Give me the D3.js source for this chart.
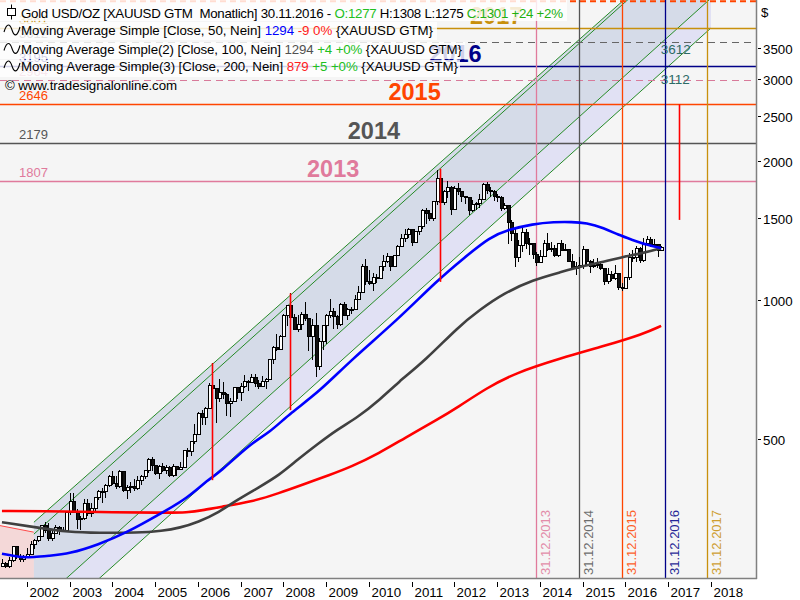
<!DOCTYPE html>
<html><head><meta charset="utf-8">
<script src="https://cdn.jsdelivr.net/npm/d3@7"></script>
<style>
body{margin:0;background:#fff;}
svg{display:block;font-family:"Liberation Sans",Arial,sans-serif;}
text{white-space:pre;}
</style>
</head><body><svg id="c" width="800" height="600"></svg>
<script>
// ---------- DATA ----------
const candles = [
["2001-06",265,275,265,270],["2001-07",270,272,264,265],["2001-08",265,279,264,273],["2001-09",273,293,271,293],["2001-10",293,293,275,279],["2001-11",279,283,271,275],["2001-12",275,281,271,279],
["2002-01",279,291,277,282],["2002-02",282,302,281,297],["2002-03",297,304,289,302],["2002-04",302,309,300,308],["2002-05",308,327,307,326],["2002-06",326,332,313,318],["2002-07",318,330,301,305],["2002-08",305,318,302,313],["2002-09",313,326,312,323],["2002-10",323,325,311,317],["2002-11",317,323,315,318],["2002-12",318,349,316,347],
["2003-01",347,383,343,367],["2003-02",367,382,346,348],["2003-03",348,353,320,335],["2003-04",335,341,319,337],["2003-05",337,372,334,363],["2003-06",363,372,342,346],["2003-07",346,365,340,354],["2003-08",354,376,349,375],["2003-09",375,389,369,385],["2003-10",385,392,365,385],["2003-11",385,400,373,397],["2003-12",397,418,395,416],
["2004-01",416,428,399,402],["2004-02",402,417,390,396],["2004-03",396,430,393,427],["2004-04",427,428,385,388],["2004-05",388,399,371,393],["2004-06",393,404,383,395],["2004-07",395,410,386,391],["2004-08",391,416,388,408],["2004-09",408,418,399,416],["2004-10",416,430,410,429],["2004-11",429,456,423,453],["2004-12",453,457,428,438],
["2005-01",438,439,418,422],["2005-02",422,439,410,436],["2005-03",436,445,424,428],["2005-04",428,440,420,435],["2005-05",435,437,414,417],["2005-06",417,443,414,436],["2005-07",436,438,417,430],["2005-08",430,447,429,434],["2005-09",434,474,434,473],["2005-10",473,478,457,470],["2005-11",470,497,460,495],["2005-12",495,540,489,513],
["2006-01",513,574,513,569],["2006-02",569,577,538,556],["2006-03",556,587,536,583],["2006-04",583,660,580,654],["2006-05",654,730,639,643],["2006-06",643,645,542,614],["2006-07",614,676,602,632],["2006-08",632,664,610,624],["2006-09",624,631,561,598],["2006-10",598,613,559,604],["2006-11",604,650,602,646],["2006-12",646,648,611,632],
["2007-01",632,660,604,651],["2007-02",651,690,646,665],["2007-03",665,673,636,662],["2007-04",662,693,661,680],["2007-05",680,691,650,659],["2007-06",659,673,641,650],["2007-07",650,684,648,665],["2007-08",665,677,643,673],["2007-09",673,746,670,743],["2007-10",743,795,727,789],["2007-11",789,845,775,783],["2007-12",783,838,780,834],
["2008-01",834,934,831,924],["2008-02",924,975,880,972],["2008-03",972,1033,916,916],["2008-04",916,932,862,865],["2008-05",865,930,852,885],["2008-06",885,940,860,929],["2008-07",929,989,902,913],["2008-08",913,916,775,834],["2008-09",834,911,740,880],["2008-10",880,936,681,717],["2008-11",717,827,705,815],["2008-12",815,880,778,880],
["2009-01",880,932,805,927],["2009-02",927,1006,915,942],["2009-03",942,962,866,921],["2009-04",921,926,866,883],["2009-05",883,983,880,980],["2009-06",980,990,921,927],["2009-07",927,961,904,954],["2009-08",954,967,932,955],["2009-09",955,1023,950,1001],["2009-10",1001,1070,1000,1040],["2009-11",1040,1195,1034,1182],["2009-12",1182,1227,1076,1096],
["2010-01",1096,1162,1075,1083],["2010-02",1083,1143,1044,1118],["2010-03",1118,1136,1088,1113],["2010-04",1113,1181,1110,1179],["2010-05",1179,1249,1155,1213],["2010-06",1213,1265,1203,1242],["2010-07",1242,1242,1155,1181],["2010-08",1181,1251,1176,1248],["2010-09",1248,1313,1243,1307],["2010-10",1307,1387,1307,1357],["2010-11",1357,1424,1332,1386],["2010-12",1386,1431,1360,1421],
["2011-01",1421,1424,1309,1333],["2011-02",1333,1412,1330,1409],["2011-03",1409,1447,1381,1439],["2011-04",1439,1575,1421,1563],["2011-05",1563,1577,1462,1536],["2011-06",1536,1561,1478,1500],["2011-07",1500,1633,1481,1628],["2011-08",1628,1913,1602,1826],["2011-09",1826,1921,1534,1620],["2011-10",1620,1725,1600,1717],["2011-11",1717,1804,1663,1746],["2011-12",1746,1764,1523,1566],
["2012-01",1566,1763,1563,1738],["2012-02",1738,1791,1688,1711],["2012-03",1711,1720,1627,1669],["2012-04",1669,1677,1613,1664],["2012-05",1664,1669,1527,1562],["2012-06",1562,1641,1547,1604],["2012-07",1604,1629,1562,1615],["2012-08",1615,1692,1582,1648],["2012-09",1648,1790,1644,1773],["2012-10",1773,1796,1691,1720],["2012-11",1720,1754,1672,1713],["2012-12",1713,1726,1635,1675],
["2013-01",1675,1697,1626,1663],["2013-02",1663,1681,1555,1578],["2013-03",1578,1617,1566,1597],["2013-04",1597,1600,1321,1472],["2013-05",1472,1488,1338,1393],["2013-06",1393,1420,1180,1234],["2013-07",1234,1348,1208,1313],["2013-08",1313,1434,1271,1396],["2013-09",1396,1424,1291,1327],["2013-10",1327,1362,1251,1323],["2013-11",1323,1326,1227,1251],["2013-12",1251,1267,1182,1202],
["2014-01",1202,1280,1201,1244],["2014-02",1244,1345,1239,1326],["2014-03",1326,1392,1277,1284],["2014-04",1284,1332,1268,1291],["2014-05",1291,1315,1241,1250],["2014-06",1250,1325,1240,1322],["2014-07",1322,1345,1285,1282],["2014-08",1282,1323,1273,1287],["2014-09",1287,1290,1207,1210],["2014-10",1210,1255,1161,1172],["2014-11",1172,1206,1131,1183],["2014-12",1183,1239,1170,1185],
["2015-01",1185,1307,1167,1283],["2015-02",1283,1286,1191,1212],["2015-03",1212,1220,1142,1183],["2015-04",1183,1224,1175,1184],["2015-05",1184,1232,1170,1190],["2015-06",1190,1205,1162,1172],["2015-07",1172,1172,1077,1095],["2015-08",1095,1170,1080,1135],["2015-09",1135,1157,1098,1115],["2015-10",1115,1191,1106,1142],["2015-11",1142,1142,1052,1065],["2015-12",1065,1088,1046,1061],
["2016-01",1061,1123,1062,1118],["2016-02",1118,1263,1107,1238],["2016-03",1238,1283,1206,1233],["2016-04",1233,1305,1208,1293],["2016-05",1293,1303,1200,1215],["2016-06",1215,1362,1208,1322],["2016-07",1322,1375,1310,1351],["2016-08",1351,1367,1301,1309],["2016-09",1309,1352,1303,1316],["2016-10",1316,1317,1241,1277],["2016-11",1277,1308,1275,1301]
];
const ma50 = [["2001-06",283],["2001-11",278],["2002-03",278],["2002-07",280],["2003-01",283],["2003-09",296],["2004-05",314],["2005-03",347],["2005-10",373],["2006-04",410],["2006-07",423],["2007-04",491],["2007-09",516],["2008-03",570],["2008-11",633],["2009-08",742],["2010-09",905],["2011-08",1099],["2012-04",1238],["2012-11",1368],["2013-04",1417],["2013-11",1459],["2014-05",1474],["2014-10",1474],["2015-02",1467],["2015-07",1431],["2015-11",1382],["2016-03",1348],["2016-07",1315],["2016-11",1294]];
const ma100 = [["2001-06",331],["2002-03",323],["2003-01",315],["2003-09",314],["2004-08",314],["2005-03",317],["2005-08",322],["2006-01",331],["2006-07",348],["2006-12",370],["2007-06",393],["2007-12",419],["2008-05",452],["2008-11",491],["2009-04",524],["2009-10",559],["2010-04",608],["2010-09",662],["2011-05",742],["2012-02",874],["2012-08",951],["2013-03",1035],["2013-11",1105],["2014-07",1149],["2015-01",1184],["2015-07",1208],["2015-12",1238],["2016-06",1263],["2016-11",1294]];
const ma200 = [["2001-06",350],["2002-06",350],["2003-09",348],["2005-03",347],["2005-10",347],["2006-03",352],["2006-07",357],["2007-04",366],["2007-12",383],["2008-06",398],["2009-02",419],["2009-08",436],["2010-04",467],["2010-11",503],["2011-08",550],["2012-02",587],["2012-10",645],["2013-06",695],["2014-07",749],["2015-07",795],["2016-06",844],["2016-11",879]];

const levelYears  = [2013, 2014, 2015, 2016, 2017];
const levelValues = [1807, 2179, 2646, 3195, 3861];
const levelColors = ["#e07a9c", "#555555", "#ff4500", "#000088", "#c8900c"];
const yearEndDates = ["2013-12", "2014-12", "2015-12", "2016-12", "2017-12"];
const yearEndLabels = ["31.12.2013", "31.12.2014", "31.12.2015", "31.12.2016", "31.12.2017"];
const dashedValues = [3612, 2990];
const dashedLabels = ["3612", "2964"];
const dashedColors = ["#666666", "#d87a9a"];
const targetLabels = ["3612", "3112"];
const topLimit = 4420;

const channelDates = ["2002-03-01", "2018-01-01"];
const channelUpper1 = [331, 6524];
const channelUpper2 = [312, 6462];
const channelMid = [216.5, 4486];
const channelLow = [186.8, 3868];
const pinkZone = [["2001-05-01", 326], ["2002-03-01", 315]];
const peakDrops = [["2006-05", 730, 408], ["2008-03", 1033, 578], ["2011-09", 1921, 1094], ["2017-04", 2646, 1489]];

const yTicks = [500, 1000, 1500, 2000, 2500, 3000, 3500];
const xYears = [2002,2003,2004,2005,2006,2007,2008,2009,2010,2011,2012,2013,2014,2015,2016,2017,2018];

// ---------- SETUP ----------
const W = 756, H = 578;
const svg = d3.select("#c");
const pm = d3.utcParse("%Y-%m"), pd = d3.utcParse("%Y-%m-%d");
const x = d3.scaleUtc().domain([Date.UTC(2002,0,1), Date.UTC(2018,0,1)]).range([27, 711]);
const y = d3.scaleLog().domain([250.8, 4446]).range([H, 0]);

svg.append("defs").append("clipPath").attr("id","clip").append("rect").attr("x",0).attr("y",0).attr("width",W).attr("height",H);
svg.append("rect").attr("x",0).attr("y",0).attr("width",W).attr("height",H).attr("fill","#f5f5f5");
const g = svg.append("g").attr("clip-path","url(#clip)");

// pink zone
const pz = pinkZone.map(d=>[x(pd(d[0])), y(d[1])]);
g.append("path").attr("d", `M${pz[0][0]},${pz[0][1]}L${pz[1][0]},${pz[1][1]}L${pz[1][0]},${H}L${pz[0][0]},${H}Z`).attr("fill","#f4d8d8");
g.append("line").attr("x1",pz[0][0]).attr("y1",pz[0][1]).attr("x2",pz[1][0]).attr("y2",pz[1][1]).attr("stroke","#ff4a4a").attr("stroke-width",1);

// channel
const cd = channelDates.map(s=>x(pd(s)));
const cp = arr => arr.map((v,i)=>[cd[i], y(v)]);
const A1 = cp(channelUpper1), A2 = cp(channelUpper2), B = cp(channelMid), C = cp(channelLow);
const poly = (p, q) => `M${p[0][0]},${p[0][1]}L${p[1][0]},${p[1][1]}L${q[1][0]},${q[1][1]}L${q[0][0]},${q[0][1]}Z`;
g.append("path").attr("d", poly(A1, B)).attr("fill","#d5dbe8");
g.append("path").attr("d", poly(B, C)).attr("fill","#e1e1f4");
[A1, A2, B, C].forEach(p=>{
  g.append("line").attr("x1",p[0][0]).attr("y1",p[0][1]).attr("x2",p[1][0]).attr("y2",p[1][1]).attr("stroke","#108010").attr("stroke-width",0.9);
});

// horizontal levels
g.append("line").attr("x1",0).attr("x2",W).attr("y1",y(topLimit)).attr("y2",y(topLimit)).attr("stroke","#ff4500").attr("stroke-width",2).attr("stroke-dasharray","6,4");
levelValues.forEach((v,i)=>{
  g.append("line").attr("x1",0).attr("x2",W).attr("y1",Math.round(y(v))+0.5).attr("y2",Math.round(y(v))+0.5).attr("stroke",levelColors[i]).attr("stroke-width",1.3);
});
dashedValues.forEach((v,i)=>{
  g.append("line").attr("x1",0).attr("x2",W).attr("y1",Math.round(y(v))+0.5).attr("y2",Math.round(y(v))+0.5).attr("stroke",dashedColors[i]).attr("stroke-width",1.2).attr("stroke-dasharray","7,5");
});
// vertical year-end lines
yearEndDates.forEach((d,i)=>{
  const xx = Math.round(x(pm(d)))+0.5;
  g.append("line").attr("x1",xx).attr("x2",xx).attr("y1",0).attr("y2",H).attr("stroke",levelColors[i]).attr("stroke-width",1.3);
  g.append("text").attr("transform",`translate(${xx+13},${H-3}) rotate(-90)`).attr("font-size",13).attr("fill",levelColors[i]).attr("opacity",0.85).text(yearEndLabels[i]);
});
// level labels (left)
levelValues.forEach((v,i)=>{
  g.append("text").attr("x",19).attr("y",y(v)-4).attr("font-size",13).attr("fill",levelColors[i]).text(String(v));
});
dashedValues.forEach((v,i)=>{
  g.append("text").attr("x",19).attr("y",y(v)-4).attr("font-size",13).attr("fill",dashedColors[i]).text(dashedLabels[i]);
});
// big year labels
levelYears.forEach((yr,i)=>{
  const xx = x(Date.UTC(yr-4, 2, 1)) - (yr-2013)*2;
  g.append("text").attr("x",xx).attr("y",y(levelValues[i])-4).attr("text-anchor","middle").attr("font-size",23.5).attr("font-weight","bold").attr("fill",levelColors[i]).text(String(yr));
});
// target labels near 2016 line
const x16 = x(pm("2016-12"));
g.append("text").attr("x",x16-4).attr("y",54).attr("font-size",13.5).attr("fill","#2c6b66").text(targetLabels[0]);
g.append("text").attr("x",x16-4).attr("y",84).attr("font-size",13.5).attr("fill","#2c6b66").text(targetLabels[1]);

// candles
const cg = g.append("g").attr("shape-rendering","crispEdges");
candles.forEach(c=>{
  const cx = Math.round(x(pm(c[0])));
  const [o,h,l,cl] = [c[1],c[2],c[3],c[4]];
  cg.append("line").attr("x1",cx+0.5).attr("x2",cx+0.5).attr("y1",y(h)).attr("y2",y(l)).attr("stroke","#000").attr("stroke-width",1);
  const top = y(Math.max(o,cl)), bot = y(Math.min(o,cl));
  cg.append("rect").attr("x",cx-1).attr("y",top).attr("width",3).attr("height",Math.max(1,bot-top))
    .attr("fill", cl>=o ? "#fff" : "#111").attr("stroke","#000").attr("stroke-width",1);
});

// moving averages
const line = d3.line().x(d=>x(pm(d[0]))).y(d=>y(d[1])).curve(d3.curveBasis);
[[ma200,"#ff0000"],[ma100,"#404040"],[ma50,"#0000ff"]].forEach(([data,col])=>{
  g.append("path").attr("d",line(data)).attr("fill","none").attr("stroke",col).attr("stroke-width",2.6);
});

// red peak drops
peakDrops.forEach(p=>{
  const xx = Math.round(x(pm(p[0])))+0.5;
  g.append("line").attr("x1",xx).attr("x2",xx).attr("y1",y(p[1])).attr("y2",y(p[2])).attr("stroke","#ff0000").attr("stroke-width",1.6);
});

// frame
svg.append("line").attr("x1",W+0.5).attr("x2",W+0.5).attr("y1",0).attr("y2",H+1).attr("stroke","#808080").attr("stroke-width",1.5);
svg.append("line").attr("x1",0).attr("x2",W+1).attr("y1",H+0.5).attr("y2",H+0.5).attr("stroke","#808080").attr("stroke-width",1.5);

// right axis
svg.append("text").attr("x",761).attr("y",17).attr("font-size",13.3).attr("fill","#000").text("$");
yTicks.forEach(t=>{
  const yy = Math.round(y(t))+0.5;
  svg.append("line").attr("x1",758).attr("x2",761).attr("y1",yy).attr("y2",yy).attr("stroke","#000");
  svg.append("text").attr("x",763).attr("y",yy+5).attr("font-size",13.3).attr("fill","#000").text(String(t));
});
// bottom axis
xYears.forEach(yr=>{
  const xx = Math.round(x(Date.UTC(yr,0,1)))+0.5;
  svg.append("line").attr("x1",xx).attr("x2",xx).attr("y1",582).attr("y2",587).attr("stroke","#000");
  svg.append("text").attr("x",xx+2).attr("y",597).attr("font-size",13.3).attr("fill","#000").text(String(yr));
});

// legend
const lg = svg.append("g");
const rows = [
  {y0:0, h:21, w:567, base:17.5, len:542, icon:"candle", parts:[["Gold USD/OZ [XAUUSD GTM  Monatlich] 30.11.2016 - ","#000"],["O:1277","#22c022"],[" H:1308 L:1275 ","#000"],["C:1301 +24 +2%","#22b010"]]},
  {y0:22, h:18, w:437, base:35, len:412, icon:"wave", parts:[["Moving Average Simple [Close, 50, Nein] ","#000"],["1294","#0000ff"],[" -9 0%","#ff2020"],[" {XAUUSD GTM}","#000"]]},
  {y0:42, h:17, w:465, base:53.5, len:441, icon:"wave", parts:[["Moving Average Simple(2) [Close, 100, Nein] ","#000"],["1294","#505050"],[" +4 +0%","#20c020"],[" {XAUUSD GTM}","#000"]]},
  {y0:60, h:17, w:460, base:71, len:437, icon:"wave", parts:[["Moving Average Simple(3) [Close, 200, Nein] ","#000"],["879","#ff2020"],[" +5 +0%","#20c020"],[" {XAUUSD GTM}","#000"]]}
];
rows.forEach(r=>{
  lg.append("rect").attr("x",0).attr("y",r.y0).attr("width",r.w).attr("height",r.h).attr("fill","#fff").attr("opacity",0.82);
  const t = lg.append("text").attr("x",21).attr("y",r.base).attr("font-size",13.3).attr("textLength",r.len).attr("lengthAdjust","spacing");
  r.parts.forEach(p=>t.append("tspan").attr("fill",p[1]).text(p[0]));
  const cy = r.base-5;
  if(r.icon==="candle"){
    lg.append("line").attr("x1",11.5).attr("x2",11.5).attr("y1",cy-8).attr("y2",cy+7).attr("stroke","#000");
    lg.append("rect").attr("x",7.5).attr("y",cy-4).attr("width",8).attr("height",7).attr("fill","#fff").attr("stroke","#000");
  } else {
    lg.append("path").attr("d",`M4,${cy+2} C7,${cy-8} 10,${cy-6} 12,${cy} S17,${cy+8} 20,${cy-3}`).attr("fill","none").attr("stroke","#000").attr("stroke-width",1.1);
  }
});
lg.append("text").attr("x",5).attr("y",89.5).attr("font-size",13.3).attr("fill","#000").attr("textLength",172).attr("lengthAdjust","spacing").text("© www.tradesignalonline.com");
</script>
</body></html>
